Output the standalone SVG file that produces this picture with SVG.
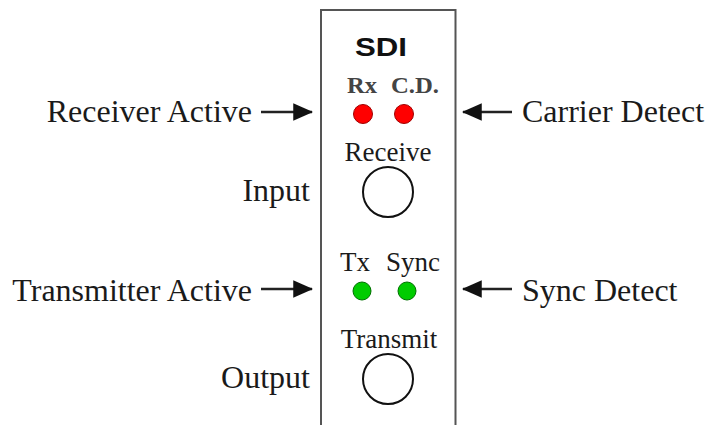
<svg xmlns="http://www.w3.org/2000/svg" width="709" height="425" viewBox="0 0 709 425">
<style>
.lbl{font-family:"Liberation Serif","Times New Roman",serif;font-size:32px;fill:#1a1a1a}
.in{font-family:"Liberation Serif","Times New Roman",serif;font-size:27px;fill:#1a1a1a;text-anchor:middle}
.led{font-family:"Liberation Serif","Times New Roman",serif;font-size:23px;font-weight:bold;fill:#444}
.red{fill:#ff0000;stroke:#a00000;stroke-width:1}
.grn{fill:#00cc00;stroke:#007000;stroke-width:1}
.jack{fill:#fff;stroke:#111;stroke-width:2}
.conn{stroke:#222;stroke-width:2.5;fill:none}
</style>
<defs>
<marker id="ah" markerWidth="8" markerHeight="7" refX="7.5" refY="3.5" orient="auto" markerUnits="strokeWidth">
<path d="M0,0 L8,3.5 L0,7 Z" fill="#111"/>
</marker>
</defs>
<rect width="709" height="425" fill="#fff"/>
<g id="panel">
<path d="M321,425 V10 H455.5 V425" fill="#fff" stroke="#555" stroke-width="2"/>
<text x="381" y="56" font-family="Liberation Sans,Arial,sans-serif" font-size="25" font-weight="bold" fill="#111" text-anchor="middle" textLength="52" lengthAdjust="spacingAndGlyphs">SDI</text>
</g>
<g id="rx-led">
<text class="led" x="347" y="93" textLength="30" lengthAdjust="spacingAndGlyphs">Rx</text>
<circle class="red" cx="363" cy="114" r="9.5"/>
</g>
<g id="cd-led">
<text class="led" x="391" y="93" textLength="48" lengthAdjust="spacingAndGlyphs">C.D.</text>
<circle class="red" cx="404" cy="114" r="9.5"/>
</g>
<g id="receive">
<text class="in" x="388" y="161">Receive</text>
<circle class="jack" cx="388" cy="192" r="25"/>
</g>
<g id="tx-led">
<text class="in" x="355" y="271">Tx</text>
<circle class="grn" cx="362" cy="291" r="9"/>
</g>
<g id="sync-led">
<text class="in" x="413" y="271">Sync</text>
<circle class="grn" cx="407" cy="291" r="9"/>
</g>
<g id="transmit">
<text class="in" x="389" y="348">Transmit</text>
<circle class="jack" cx="388" cy="379" r="25"/>
</g>
<g id="receiver-active"><text class="lbl" x="252" y="122" text-anchor="end">Receiver Active</text></g>
<g id="input"><text class="lbl" x="310" y="201" text-anchor="end">Input</text></g>
<g id="transmitter-active"><text class="lbl" x="252" y="301" text-anchor="end">Transmitter Active</text></g>
<g id="output"><text class="lbl" x="310" y="388" text-anchor="end">Output</text></g>
<g id="carrier-detect"><text class="lbl" x="522" y="122">Carrier Detect</text></g>
<g id="sync-detect"><text class="lbl" x="522" y="301">Sync Detect</text></g>
<g id="connectors">
<line class="conn" x1="261" y1="112" x2="312" y2="112" marker-end="url(#ah)"/>
<line class="conn" x1="261" y1="289" x2="312" y2="289" marker-end="url(#ah)"/>
<line class="conn" x1="512" y1="112" x2="463" y2="112" marker-end="url(#ah)"/>
<line class="conn" x1="512" y1="289" x2="463" y2="289" marker-end="url(#ah)"/>
</g>
</svg>
